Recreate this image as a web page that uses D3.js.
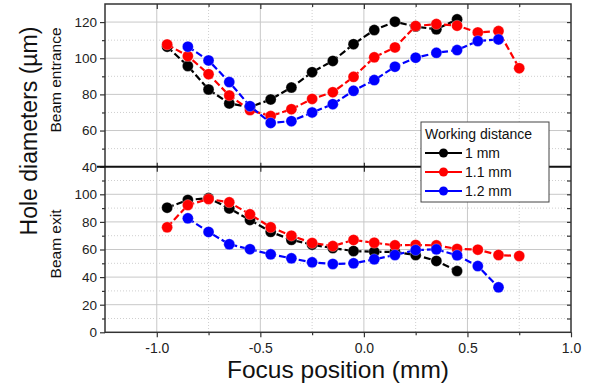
<!DOCTYPE html>
<html><head><meta charset="utf-8">
<script src="https://d3js.org/d3.v7.min.js"></script>
<style>body{margin:0;background:#fff}svg{display:block;font-family:Arial,"Liberation Sans",sans-serif}</style>
</head><body>
<script>
// Data
const xTop1 = [-0.95,-0.85,-0.75,-0.65,-0.55,-0.45,-0.35,-0.25,-0.15,-0.05,0.05,0.15,0.25,0.35,0.45];
const entrance1mm = [106.4,95.7,82.7,75,73,77.2,83.8,92.3,98.5,107.8,115.6,120.2,117.5,116,121.5];
const xTop11 = [-0.95,-0.85,-0.75,-0.65,-0.55,-0.45,-0.35,-0.25,-0.15,-0.05,0.05,0.15,0.25,0.35,0.45,0.55,0.65,0.75];
const entrance11mm = [107.6,101.2,91.2,79.4,71.3,68,71.8,77.5,81.2,89.7,100.5,106,117.8,118.9,118,114.3,115,94.5];
const xTop12 = [-0.85,-0.75,-0.65,-0.55,-0.45,-0.35,-0.25,-0.15,-0.05,0.05,0.15,0.25,0.35,0.45,0.55,0.65];
const entrance12mm = [106.4,98.8,86.8,73.5,64.2,65.2,70,74.6,82,87.9,95.3,100.3,103,104.5,109.5,110.4];
const exit1mm = [90.3,95.9,97.3,89.8,81.4,72.8,67,63.5,61,58.9,58.4,58.2,56,51.7,44.4];
const exit11mm = [76.1,92.2,96.6,94.2,85.5,76.1,70,64.7,62.5,66.9,64.9,63,63.3,63,60.4,59.9,56,55.3];
const exit12mm = [82.6,72.7,63.8,60.2,56.5,53.6,50.7,49.5,50,52.9,56,59.6,60.1,55.8,48,32.6];
const seriesNames = ["1 mm","1.1 mm","1.2 mm"];
const seriesColors = ["#000000","#ff0000","#0000ff"];
const xTicks = [-1.0,-0.5,0.0,0.5,1.0];
const xMinor = [-1.25,-0.75,-0.25,0.25,0.75];
const yTopTicks = [40,60,80,100,120];
const yTopMinor = [50,70,90,110,130];
const yBotTicks = [0,20,40,60,80,100];
const yBotMinor = [10,30,50,70,90,110];

const W=600,H=391;
const L=105,R=571,T=4,M=166.7,B=332.3;
const svg=d3.select("body").append("svg").attr("width",W).attr("height",H);
const x=d3.scaleLinear().domain([-1.25,1.0]).range([L,R]);
const yT=d3.scaleLinear().domain([40,130]).range([M,T]);
const yB=d3.scaleLinear().domain([0,120]).range([B,M]);

// grid
const g=svg.append("g");
xTicks.filter(v=>v<1).forEach(v=>{
  g.append("line").attr("x1",x(v)).attr("x2",x(v)).attr("y1",T).attr("y2",B).attr("stroke","#c8c8c8").attr("stroke-width",1);
});
xMinor.filter(v=>v>-1.25).forEach(v=>{
  g.append("line").attr("x1",x(v)).attr("x2",x(v)).attr("y1",T).attr("y2",B).attr("stroke","#cfcfcf").attr("stroke-width",1).attr("stroke-dasharray","1,2");
});
yTopTicks.filter(v=>v>40).forEach(v=>{
  g.append("line").attr("x1",L).attr("x2",R).attr("y1",yT(v)).attr("y2",yT(v)).attr("stroke","#c8c8c8");
});
yTopMinor.filter(v=>v<130).forEach(v=>{
  g.append("line").attr("x1",L).attr("x2",R).attr("y1",yT(v)).attr("y2",yT(v)).attr("stroke","#cfcfcf").attr("stroke-dasharray","1,2");
});
yBotTicks.filter(v=>v>0).forEach(v=>{
  g.append("line").attr("x1",L).attr("x2",R).attr("y1",yB(v)).attr("y2",yB(v)).attr("stroke","#c8c8c8");
});
yBotMinor.forEach(v=>{
  g.append("line").attr("x1",L).attr("x2",R).attr("y1",yB(v)).attr("y2",yB(v)).attr("stroke","#cfcfcf").attr("stroke-dasharray","1,2");
});

// axes
const axCol="#333";
function styleAxis(sel,fs){
  sel.select(".domain").remove();
  sel.selectAll("line").attr("stroke",axCol).attr("stroke-width",1.2);
  sel.selectAll("text").attr("fill","#222").style("font-size",fs).style("font-family","Arial,'Liberation Sans',sans-serif");
}
svg.append("g").attr("transform",`translate(${L},0)`).call(d3.axisLeft(yT).tickValues(yTopTicks).tickSize(5).tickPadding(3)).call(s=>styleAxis(s,"13.5px"));
svg.append("g").attr("transform",`translate(${L},0)`).call(d3.axisLeft(yT).tickValues(yTopMinor.filter(v=>v<130)).tickSize(3).tickFormat("")).call(s=>styleAxis(s,"0"));
svg.append("g").attr("transform",`translate(${L},0)`).call(d3.axisLeft(yB).tickValues(yBotTicks).tickSize(5).tickPadding(3)).call(s=>styleAxis(s,"13.5px"));
svg.append("g").attr("transform",`translate(${L},0)`).call(d3.axisLeft(yB).tickValues(yBotMinor).tickSize(3).tickFormat("")).call(s=>styleAxis(s,"0"));
// right inward
svg.append("g").attr("transform",`translate(${R},0)`).call(d3.axisLeft(yT).tickValues(yTopTicks.concat(yTopMinor).filter(v=>v>40&&v<130)).tickSize(4).tickFormat("")).call(s=>styleAxis(s,"0"));
svg.append("g").attr("transform",`translate(${R},0)`).call(d3.axisLeft(yB).tickValues(yBotTicks.concat(yBotMinor).filter(v=>v>0)).tickSize(4).tickFormat("")).call(s=>styleAxis(s,"0"));
// bottom
svg.append("g").attr("transform",`translate(0,${B})`).call(d3.axisBottom(x).tickValues(xTicks).tickSize(5).tickPadding(6).tickFormat(d3.format(".1f"))).call(s=>styleAxis(s,"14px"));
svg.append("g").attr("transform",`translate(0,${B})`).call(d3.axisBottom(x).tickValues(xMinor.filter(v=>v>-1.25)).tickSize(3).tickFormat("")).call(s=>styleAxis(s,"0"));
svg.selectAll("text").filter(function(){return this.textContent.startsWith("−");}).text(function(){return this.textContent.replace("−","-");});
// top inward & middle
svg.append("g").attr("transform",`translate(0,${T})`).call(d3.axisBottom(x).tickValues(xTicks.filter(v=>v<1)).tickSize(5).tickFormat("")).call(s=>styleAxis(s,"0"));
svg.append("g").attr("transform",`translate(0,${T})`).call(d3.axisBottom(x).tickValues(xMinor.filter(v=>v>-1.25)).tickSize(3).tickFormat("")).call(s=>styleAxis(s,"0"));
svg.append("g").attr("transform",`translate(0,${M})`).call(d3.axisBottom(x).tickValues(xTicks.filter(v=>v<1)).tickSize(5).tickFormat("")).call(s=>styleAxis(s,"0"));
svg.append("g").attr("transform",`translate(0,${M})`).call(d3.axisTop(x).tickValues(xTicks.filter(v=>v<1)).tickSize(4).tickFormat("")).call(s=>styleAxis(s,"0"));

// frame
svg.append("rect").attr("x",L).attr("y",T).attr("width",R-L).attr("height",B-T).attr("fill","none").attr("stroke","#333").attr("stroke-width",1.5);
svg.append("line").attr("x1",L-8).attr("x2",R).attr("y1",M).attr("y2",M).attr("stroke","#111").attr("stroke-width",2);

// series
const tops=[[xTop1,entrance1mm],[xTop11,entrance11mm],[xTop12,entrance12mm]];
const bots=[[xTop1,exit1mm],[xTop11,exit11mm],[xTop12,exit12mm]];
function drawSeries(xs,ys,yS,col){
  const pts=xs.map((v,i)=>[v,ys[i]]);
  svg.append("path").datum(pts).attr("d",d3.line().x(d=>x(d[0])).y(d=>yS(d[1])))
    .attr("fill","none").attr("stroke",col).attr("stroke-width",2.2).attr("stroke-dasharray","7,3");
  svg.append("g").selectAll("circle").data(pts).join("circle")
    .attr("cx",d=>x(d[0])).attr("cy",d=>yS(d[1])).attr("r",5.5).attr("fill",col)
    .attr("stroke","#fff").attr("stroke-opacity",0.35).attr("stroke-width",0.8);
}
for(let i=0;i<3;i++){drawSeries(tops[i][0],tops[i][1],yT,seriesColors[i]);}
for(let i=0;i<3;i++){drawSeries(bots[i][0],bots[i][1],yB,seriesColors[i]);}

// legend
const lg=svg.append("g");
lg.append("rect").attr("x",421).attr("y",122).attr("width",128).attr("height",80).attr("fill","#fff").attr("stroke","#444").attr("stroke-width",1);
lg.append("text").attr("x",425).attr("y",139).text("Working distance").style("font-size","14px").attr("fill","#111");
seriesNames.forEach((n,i)=>{
  const yy=153+i*19;
  lg.append("line").attr("x1",425).attr("x2",462).attr("y1",yy).attr("y2",yy).attr("stroke",seriesColors[i]).attr("stroke-width",2.2);
  lg.append("circle").attr("cx",443.5).attr("cy",yy).attr("r",4.5).attr("fill",seriesColors[i]);
  lg.append("text").attr("x",465).attr("y",yy+5).text(n).style("font-size","14px").attr("fill","#111");
});

// labels
svg.append("text").attr("transform","translate(61,80) rotate(-90)").attr("text-anchor","middle").text("Beam entrance").style("font-size","15.5px").attr("fill","#111");
svg.append("text").attr("transform","translate(61,244) rotate(-90)").attr("text-anchor","middle").text("Beam exit").style("font-size","15.5px").attr("fill","#111");
svg.append("text").attr("transform","translate(37,131) rotate(-90)").attr("text-anchor","middle").text("Hole diameters (\u00b5m)").style("font-size","23px").attr("fill","#111");
svg.append("text").attr("x",338).attr("y",378).attr("text-anchor","middle").text("Focus position (mm)").style("font-size","24.5px").attr("fill","#111");
</script>
</body></html>
